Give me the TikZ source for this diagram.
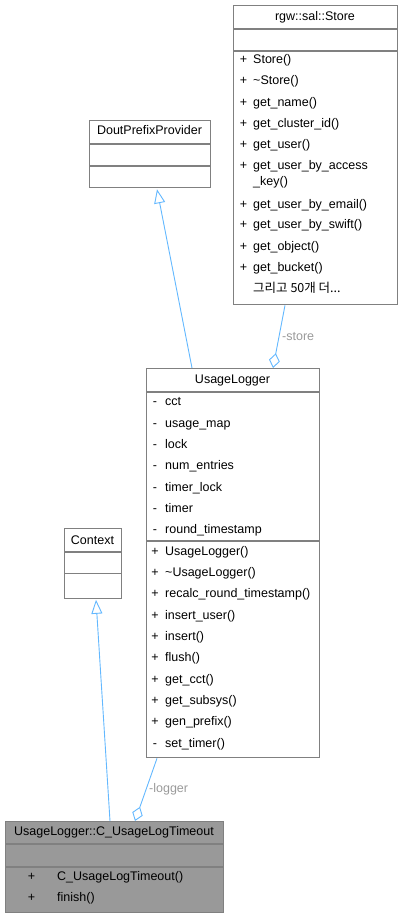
\documentclass[tikz,border=0pt]{standalone}
\usepackage{fontspec}
\setmainfont{Liberation Sans}
\newfontfamily\kofont{Noto Sans CJK KR}
\usetikzlibrary{arrows.meta,calc}
\definecolor{boxgrey}{HTML}{808080}
\definecolor{hlgrey}{HTML}{999999}
\definecolor{edgeblue}{HTML}{63B8FF}
\definecolor{lblgrey}{HTML}{9A9A9A}
\tikzset{
  cls/.style     = {draw=boxgrey, line width=1.3pt, fill=white, inner sep=0pt, anchor=north west},
  sepline/.style = {draw=boxgrey, line width=1.3pt},
  title/.style   = {font=\fontsize{12.5}{14}\selectfont, inner sep=0pt, text height=9pt, text depth=3pt},
  mem/.style     = {title, anchor=west},
  sign/.style    = {title},
  gen/.style     = {draw=edgeblue, line width=0.9pt,
                    -{Triangle[open, length=14pt, width=11pt, fill=white]}},
  agg/.style     = {draw=edgeblue, line width=0.9pt,
                    -{Diamond[open, length=15pt, width=11pt, fill=white]}},
  role/.style    = {title, text=lblgrey, anchor=west},
}

\begin{document}
\begin{tikzpicture}[x=1pt, y=-1pt]
  \useasboundingbox (0,0) rectangle (402,917);

  % rgw::sal::Store
  \node[cls, minimum width=164pt, minimum height=299pt] (store) at (233,5) {};
  \draw[sepline] ([yshift=-24pt]store.north west) -- ([yshift=-24pt]store.north east);
  \draw[sepline] ([yshift=-46pt]store.north west) -- ([yshift=-46pt]store.north east);
  \node[title] (storeT) at (315,18) {rgw::sal::Store};
  \foreach \y/\t in {61/Store(), 82/\textasciitilde Store(), 104/get\_name(),
                     125/get\_cluster\_id(), 146/get\_user(), 167/get\_user\_by\_access,
                     205/get\_user\_by\_email(), 226/get\_user\_by\_swift(),
                     247/get\_object(), 268/get\_bucket()} {
    \node[sign] at (243.5,\y) {+};
    \node[mem] at (253,\y) {\t};
  }
  \node[mem] (storeKey) at (253,183) {\_key()};
  \node[mem] (storeMore) at (253,289) {\kofont 그리고 50개 더...};

  % DoutPrefixProvider
  \node[cls, minimum width=121pt, minimum height=67pt] (dout) at (89,120) {};
  \draw[sepline] ([yshift=-24pt]dout.north west) -- ([yshift=-24pt]dout.north east);
  \draw[sepline] ([yshift=-46pt]dout.north west) -- ([yshift=-46pt]dout.north east);
  \node[title] (doutT) at (149.5,132) {DoutPrefixProvider};

  % UsageLogger
  \node[cls, minimum width=173pt, minimum height=389pt] (ul) at (146,368) {};
  \draw[sepline] ([yshift=-24pt]ul.north west) -- ([yshift=-24pt]ul.north east);
  \draw[sepline] ([yshift=-173pt]ul.north west) -- ([yshift=-173pt]ul.north east);
  \node[title] (ulT) at (232.5,380) {UsageLogger};
  \foreach \y/\t in {402/cct, 424/usage\_map, 445/lock, 466/num\_entries,
                     488/timer\_lock, 509/timer, 530/round\_timestamp} {
    \node[sign] at (155,\y) {-};
    \node[mem] at (165,\y) {\t};
  }
  \foreach \y/\s/\t in {552/+/UsageLogger(), 573/+/\textasciitilde UsageLogger(),
                        594/+/recalc\_round\_timestamp(), 616/+/insert\_user(),
                        637/+/insert(), 658/+/flush(), 680/+/get\_cct(),
                        701/+/get\_subsys(), 722/+/gen\_prefix(), 744/-/set\_timer()} {
    \node[sign] at (155,\y) {\s};
    \node[mem] at (165,\y) {\t};
  }

  % Context
  \node[cls, minimum width=57pt, minimum height=70pt] (ctx) at (64,527.5) {};
  \draw[sepline] ([yshift=-24.5pt]ctx.north west) -- ([yshift=-24.5pt]ctx.north east);
  \draw[sepline] ([yshift=-46pt]ctx.north west) -- ([yshift=-46pt]ctx.north east);
  \node[title] (ctxT) at (92.5,541) {Context};

  % UsageLogger::C_UsageLogTimeout
  \node[cls, fill=hlgrey, minimum width=218pt, minimum height=91pt] (tmo) at (5,821) {};
  \draw[sepline] ([yshift=-23pt]tmo.north west) -- ([yshift=-23pt]tmo.north east);
  \draw[sepline] ([yshift=-46pt]tmo.north west) -- ([yshift=-46pt]tmo.north east);
  \node[title] (tmoT) at (114,832) {UsageLogger::C\_UsageLogTimeout};
  \node[sign] at (31.5,877) {+};
  \node[mem] (tmoCtor) at (57,877) {C\_UsageLogTimeout()};
  \node[sign] at (31.5,898) {+};
  \node[mem] (tmoFinish) at (57,898) {finish()};

  % relations
  \draw[gen] ([xshift=46pt]ul.north west) -- ([xshift=68pt,yshift=-1pt]dout.south west);
  \draw[agg] ([xshift=52pt]store.south west) -- ([xshift=127pt]ul.north west);
  \node[role] (storeRole) at (282,337) {-store};
  \draw[gen] ([xshift=105pt]tmo.north west) -- ([xshift=32pt,yshift=-1pt]ctx.south west);
  \draw[agg] ([xshift=11pt]ul.south west) -- ([xshift=130pt]tmo.north west);
  \node[role] (loggerRole) at (149,789) {-logger};
\end{tikzpicture}
\end{document}
